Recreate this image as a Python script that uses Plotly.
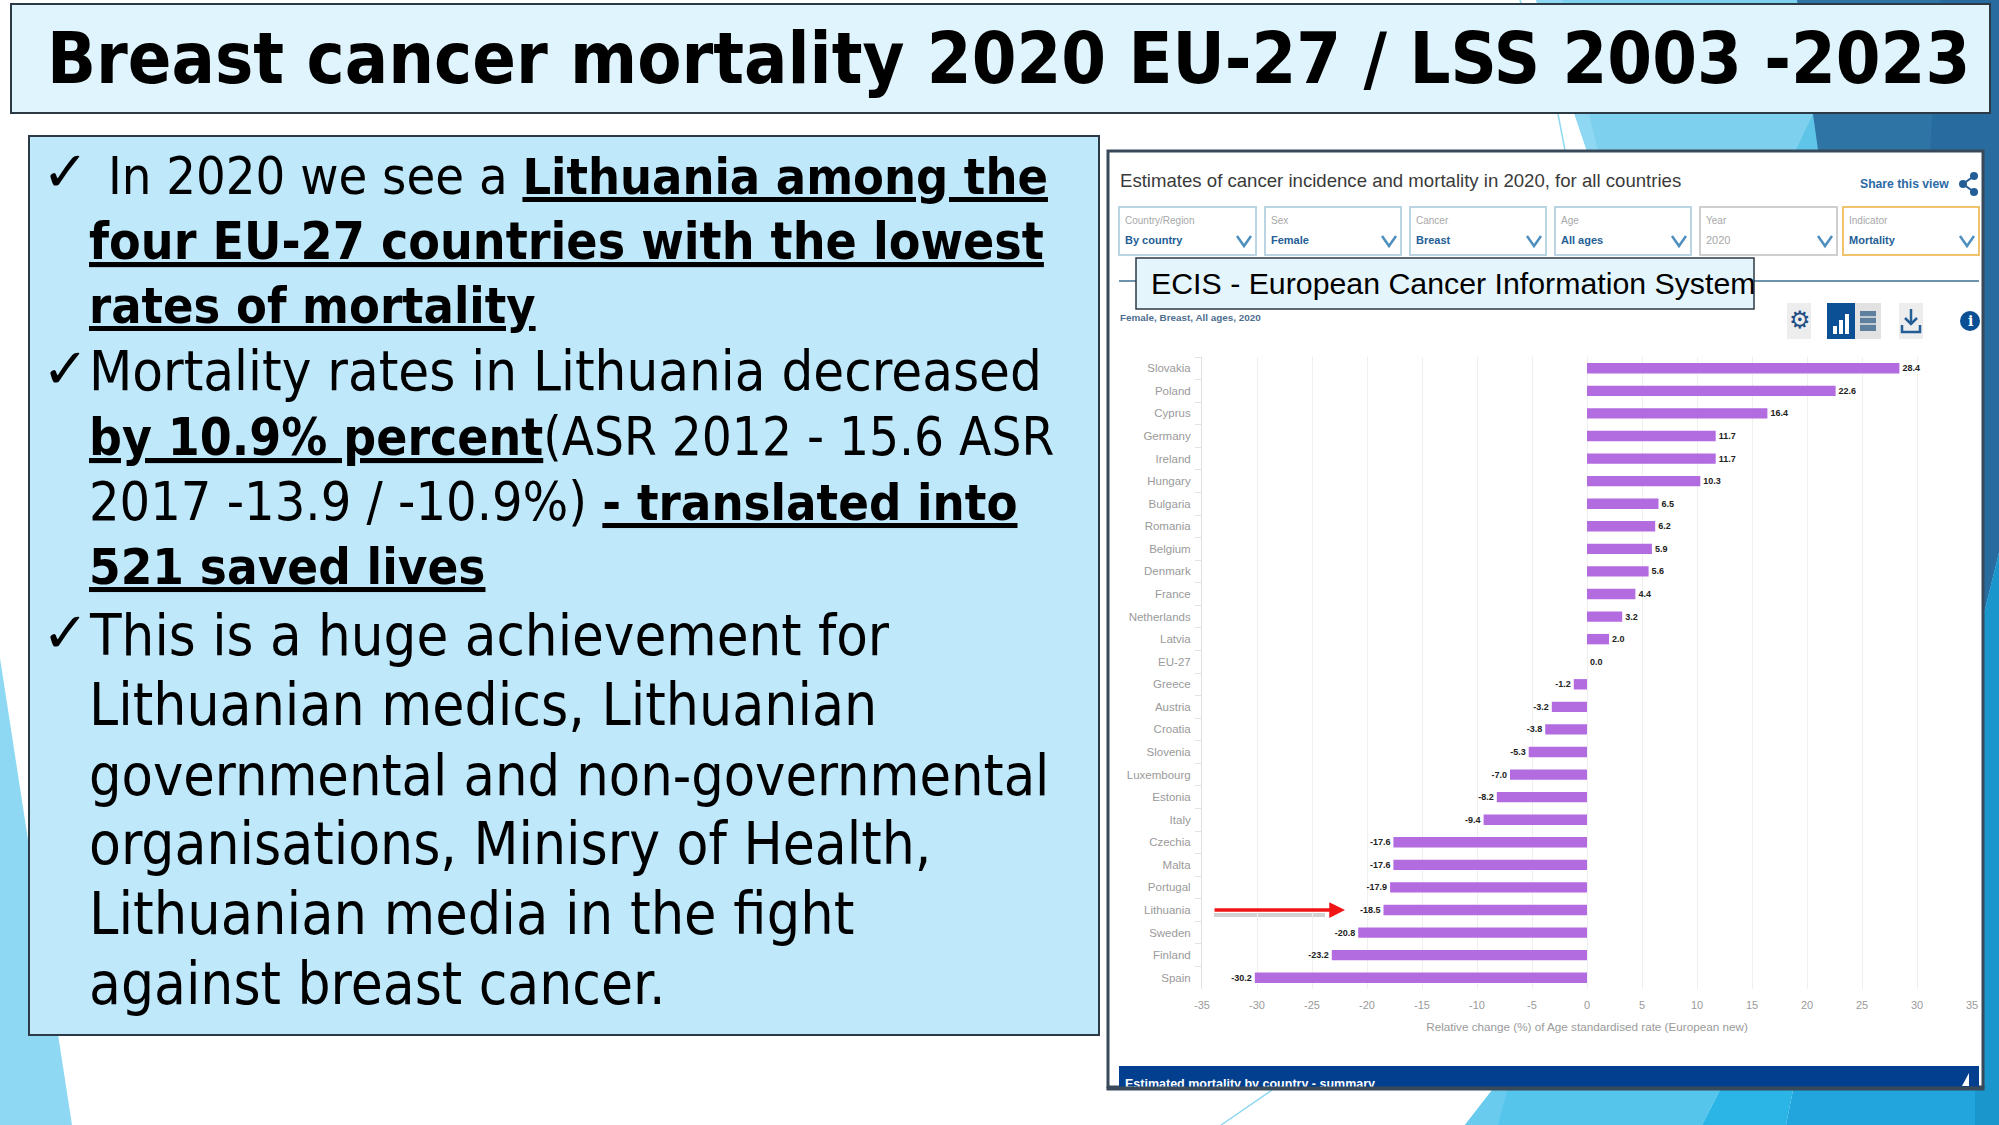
import plotly.graph_objects as go

W = 1999
H = 1125

# chart data
countries = ["Slovakia", "Poland", "Cyprus", "Germany", "Ireland", "Hungary", "Bulgaria",
             "Romania", "Belgium", "Denmark", "France", "Netherlands", "Latvia", "EU-27",
             "Greece", "Austria", "Croatia", "Slovenia", "Luxembourg", "Estonia", "Italy",
             "Czechia", "Malta", "Portugal", "Lithuania", "Sweden", "Finland", "Spain"]
values = [28.4, 22.6, 16.4, 11.7, 11.7, 10.3, 6.5, 6.2, 5.9, 5.6, 4.4, 3.2, 2.0, 0.0,
          -1.2, -3.2, -3.8, -5.3, -7.0, -8.2, -9.4, -17.6, -17.6, -17.9, -18.5, -20.8, -23.2, -30.2]
x_ticks = [-35, -30, -25, -20, -15, -10, -5, 0, 5, 10, 15, 20, 25, 30, 35]
x_tick_labels = ["-35", "-30", "-25", "-20", "-15", "-10", "-5", "0", "5", "10", "15", "20", "25", "30", "35"]

slide_title = "Breast cancer mortality 2020 EU-27 / LSS 2003 -2023"
block_a = [
    " In 2020 we see a <b><u>Lithuania among the</u></b>",
    "<b><u>four EU-27 countries with the lowest</u></b>",
    "<b><u>rates of mortality</u></b>",
    "Mortality rates in Lithuania decreased",
    "<b><u>by 10.9% percent</u></b>(ASR 2012 - 15.6 ASR",
    "2017 -13.9 / -10.9%) <b><u>- translated into</u></b>",
    "<b><u>521 saved lives</u></b>",
]
block_b = [
    "This is a huge achievement for",
    "Lithuanian medics, Lithuanian",
    "governmental and non-governmental",
    "organisations, Minisry of Health,",
    "Lithuanian media in the fight",
    "against breast cancer.",
]
dropdown_labels = ["Country/Region", "Sex", "Cancer", "Age", "Year", "Indicator"]
dropdown_values = ["By country", "Female", "Breast", "All ages", "2020", "Mortality"]

SLIDE_FONT = "DejaVu Sans Condensed"
NARROW = "Liberation Sans"

shapes = []
notes = []


def px(x):
    return x / W


def py(y):
    return 1 - y / H


def rect(x0, y0, x1, y1, fill, line=None, lw=0):
    shapes.append(dict(type="rect", xref="paper", yref="paper", layer="below",
                       x0=px(x0), x1=px(x1), y0=py(y0), y1=py(y1), fillcolor=fill,
                       line=dict(color=line or fill, width=lw)))


def poly(pts, fill):
    path = "M " + " L ".join(f"{px(a):.5f},{py(b):.5f}" for a, b in pts) + " Z"
    shapes.append(dict(type="path", xref="paper", yref="paper", layer="below", path=path,
                       fillcolor=fill, line=dict(width=0)))


def stroke(pts, color, lw=2):
    path = "M " + " L ".join(f"{px(a):.5f},{py(b):.5f}" for a, b in pts)
    shapes.append(dict(type="path", xref="paper", yref="paper", layer="below", path=path,
                       line=dict(color=color, width=lw)))


def dot(x, y, r, fill):
    shapes.append(dict(type="circle", xref="paper", yref="paper", layer="below",
                       x0=px(x - r), x1=px(x + r), y0=py(y - r), y1=py(y + r),
                       fillcolor=fill, line=dict(width=0)))


def label(x, y, text, size, color="#000000", family=SLIDE_FONT, anchor="left"):
    notes.append(dict(xref="paper", yref="paper", x=px(x), y=py(y), text=text, showarrow=False,
                      xanchor=anchor, yanchor="middle", align=anchor, borderpad=0,
                      font=dict(size=size, color=color, family=family)))


# slide background
poly([(0, 658), (72, 1125), (0, 1125)], "#8ED8F3")
stroke([(1520, 0), (1558, 114), (1565, 150)], "#8ED8F3", 1.5)
poly([(1536, 0), (1830, 0), (1830, 160), (1590, 160)], "#7DD0EE")
poly([(1536, 0), (1562, 0), (1600, 160), (1590, 160)], "#8FD8F3")
poly([(1813, 114), (1818, 150), (1796, 150)], "#5EC5E8")
poly([(1797, 0), (1999, 0), (1999, 552), (1984, 613), (1818, 150)], "#2E75A5")
poly([(1940, 0), (1999, 0), (1999, 552), (1984, 613), (1930, 150)], "#286C9F")
poly([(1984, 613), (1999, 552), (1999, 1125), (1984, 1125)], "#1B96CC")
stroke([(1272, 1090), (1221, 1125)], "#8ED8F3", 1.5)
poly([(1500, 1080), (1465, 1125), (1702, 1125), (1725, 1080)], "#55C5EC")
poly([(1500, 1080), (1465, 1125), (1498, 1125), (1510, 1080)], "#69CCEE")
poly([(1725, 1080), (1702, 1125), (1786, 1125), (1795, 1080)], "#2AB5E6")
poly([(1795, 1080), (1786, 1125), (1975, 1125), (1975, 1080)], "#22A5DD")
poly([(1975, 1080), (1975, 1125), (1999, 1125), (1999, 1080)], "#1B96CC")

# title and text boxes
rect(11, 4, 1990, 113, "#DFF4FC", "#2B3A45", 2)
rect(29, 136, 1099, 1035, "#BFE9FB", "#2B3A45", 2)

# screenshot panel
rect(1108, 151, 1983, 1087, "#FFFFFF", "#38495A", 3)
rect(1119, 1066, 1979, 1087, "#02408F")
poly([(1969, 1073), (1969, 1086), (1962, 1086)], "#FFFFFF")

# dropdown row
box_x = [(1119, 1256), (1265, 1401), (1410, 1546), (1555, 1691), (1700, 1837), (1843, 1979)]
box_line = ["#BBD4E4", "#BBD4E4", "#BBD4E4", "#BBD4E4", "#CFCFCF", "#F0C26E"]
for i, (a, b) in enumerate(box_x):
    rect(a, 207, b, 255, "#FFFFFF", box_line[i], 2)
    stroke([(b - 19, 236), (b - 12, 246), (b - 5, 236)], "#4F8FBF", 2.5)
    label(a + 5, 221, dropdown_labels[i], 10, "#A8A8A8", NARROW)
    label(a + 5, 240, f"<b>{dropdown_values[i]}</b>" if i != 4 else dropdown_values[i], 11,
          "#245E96" if i != 4 else "#A8A8A8", NARROW)

stroke([(1119, 281), (1979, 281)], "#6F93AD", 2)
rect(1136, 258, 1754, 309, "#E4F5FC", "#2B3A45", 1.5)

# toolbar buttons
rect(1787, 303, 1811, 339, "#EDEDED")
rect(1855, 303, 1881, 339, "#E2E2E2")
rect(1899, 303, 1923, 339, "#EDEDED")
rect(1827, 303, 1855, 339, "#0B4F94")
for a, h in [(1833, 8), (1839, 14), (1845, 20)]:
    rect(a, 334 - h, a + 4, 334, "#FFFFFF")
rect(1860, 311, 1876, 331, "#5F7F9F")
stroke([(1860, 317), (1876, 317)], "#E2E2E2", 1.5)
stroke([(1860, 324), (1876, 324)], "#E2E2E2", 1.5)
stroke([(1911, 309), (1911, 323)], "#245E96", 2.5)
stroke([(1905, 318), (1911, 324), (1917, 318)], "#245E96", 2.5)
stroke([(1902, 325), (1902, 332), (1920, 332), (1920, 325)], "#245E96", 2.5)
dot(1970, 321, 10, "#0B4F94")

# share icon
stroke([(1974, 176), (1963, 184), (1974, 192)], "#245E96", 2)
dot(1974, 176, 4, "#245E96")
dot(1963, 184, 4, "#245E96")
dot(1974, 192, 4, "#245E96")

# arrow shadow
stroke([(1214, 915), (1325, 915)], "#D2D2D2", 4)

# slide text, sizes differ a little per line to keep the line widths of the reference
label(46, 58, f"<b>{slide_title}</b>", 71.6)
label(41, 172, "✓", 56, family="DejaVu Sans")
a_sizes = [52, 52, 52, 55.8, 52.5, 53.5, 52]
a_bold = [50, 51.3, 50, 50, 51.1, 50.3, 50.6]
for line, yy, size, bold in zip(block_a, [176, 241, 306, 371, 436, 501, 566], a_sizes, a_bold):
    span = f'<span style="font-size:{bold}px"><b><u>'
    text = line.strip().replace("<b><u>", span).replace("</u></b>", "</u></b></span>")
    label(107 if line.startswith(" ") else 88, yy, text, size)
label(41, 368, "✓", 56, family="DejaVu Sans")
b_sizes = [57.5, 58.2, 57, 58, 58.7, 57.9]
for line, yy, size in zip(block_b, [635, 705, 775, 844, 914, 984], b_sizes):
    label(88, yy, line, size)
label(41, 632, "✓", 56, family="DejaVu Sans")

# screenshot text
label(1119, 180, "Estimates of cancer incidence and mortality in 2020, for all countries", 18.6,
      "#3A3A3A", NARROW)
label(1859, 184, "<b>Share this view</b>", 12.2, "#2B6AA5", NARROW)
label(1150, 283, "ECIS - European Cancer Information System", 30.3, "#000000", "Liberation Sans")
label(1119, 318, "<b>Female, Breast, All ages, 2020</b>", 9.9, "#4F6F8F", NARROW)
label(1970, 321, "<b>i</b>", 14, "#FFFFFF", "DejaVu Serif", "center")
label(1800, 320, "⚙", 24, "#244F86", "DejaVu Sans", "center")
label(1124, 1084, "<b>Estimated mortality by country - summary</b>", 12.5, "#FFFFFF", NARROW)

# red arrow over the Lithuania row
notes.append(dict(xref="x", yref="y", x=-22, y="Lithuania", ax=-132, ay=0, text="", showarrow=True,
                  arrowcolor="#F01414", arrowwidth=3.5, arrowhead=2, arrowsize=0.9))

# covers the bottom of the summary text, the panel border crops it in the reference
notes.append(dict(xref="paper", yref="paper", x=px(1545.5), y=py(1088.5), text=" ", showarrow=False,
                  width=877, height=3, bgcolor="#38495A", font=dict(size=1),
                  xanchor="center", yanchor="middle", borderpad=0))

fig = go.Figure(go.Bar(
    x=values,
    y=countries,
    orientation="h",
    marker=dict(color="#B36BE0", line=dict(width=0)),
    width=0.46,
    texttemplate="%{x:.1f}",
    textposition="outside",
    cliponaxis=False,
    constraintext="none",
    textfont=dict(size=9, color="#222222", family=NARROW, weight="bold"),
))

fig.update_layout(
    width=W,
    height=H,
    margin=dict(l=0, r=0, t=0, b=0, autoexpand=False),
    paper_bgcolor="#FFFFFF",
    plot_bgcolor="rgba(0,0,0,0)",
    showlegend=False,
    shapes=shapes,
    annotations=notes,
    xaxis=dict(
        domain=[px(1202), px(1972)],
        range=[-35, 35],
        tickmode="array",
        tickvals=x_ticks,
        ticktext=x_tick_labels,
        automargin=False,
        showgrid=True,
        gridcolor="#EFEFEF",
        zeroline=False,
        showline=False,
        ticks="",
        ticklabelstandoff=8,
        tickfont=dict(size=11, color="#9A9A9A", family=NARROW),
        title=dict(text="Relative change (%) of Age standardised rate (European new)",
                   font=dict(size=11.7, color="#9A9A9A", family=NARROW), standoff=12),
    ),
    yaxis=dict(
        domain=[py(989), py(357)],
        autorange="reversed",
        categoryorder="array",
        categoryarray=countries,
        tickson="boundaries",
        automargin=False,
        showgrid=False,
        showline=True,
        linecolor="#E2E2E2",
        ticks="outside",
        ticklen=6,
        tickcolor="#E2E2E2",
        ticklabelstandoff=8,
        tickfont=dict(size=11.5, color="#9A9A9A", family=NARROW),
        dtick=1,
    ),
)

fig.write_html("out.html", config={"displayModeBar": False},
               post_script="document.body.style.margin='0';")
